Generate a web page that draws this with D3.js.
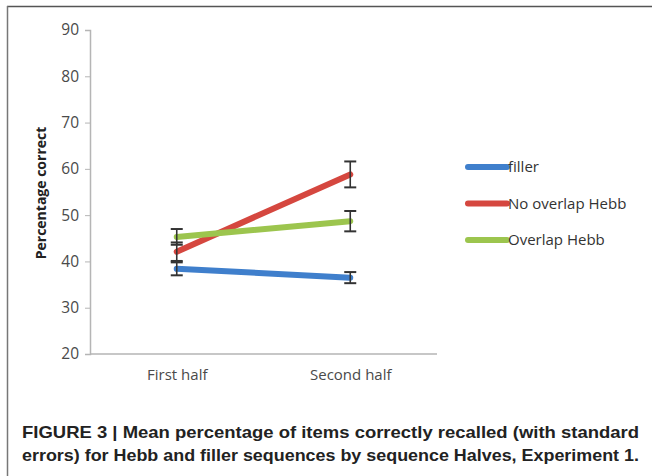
<!DOCTYPE html>
<html>
<head>
<meta charset="utf-8">
<script src="https://cdn.jsdelivr.net/npm/d3@7"></script>
<style>
  body { margin: 0; background: #fff; }
  svg { display: block; }
</style>
</head>
<body>
<div id="chart"></div>
<script>
const halves = ["First half", "Second half"];
const yTicks = [20, 30, 40, 50, 60, 70, 80, 90];
const seriesNames = ["filler", "No overlap Hebb", "Overlap Hebb"];
const fillerMeans = [38.4, 36.5];
const fillerErrors = [1.4, 1.2];
const noOverlapMeans = [42.1, 58.8];
const noOverlapErrors = [2.0, 2.8];
const overlapMeans = [45.3, 48.7];
const overlapErrors = [1.7, 2.2];
const captionLines = [
  "FIGURE 3 | Mean percentage of items correctly recalled (with standard",
  "errors) for Hebb and filler sequences by sequence Halves, Experiment 1."
];

const colors = ["#3f7fcc", "#d5473f", "#9cc54e"];
const series = [
  { name: seriesNames[0], means: fillerMeans, errs: fillerErrors, color: colors[0] },
  { name: seriesNames[1], means: noOverlapMeans, errs: noOverlapErrors, color: colors[1] },
  { name: seriesNames[2], means: overlapMeans, errs: overlapErrors, color: colors[2] }
];

const width = 652;
const height = 476;
const svg = d3.select("#chart").append("svg")
  .attr("width", width)
  .attr("height", height);

// figure frame: top and left rules only
svg.append("line").attr("x1", 7).attr("x2", width).attr("y1", 6.5).attr("y2", 6.5)
  .attr("stroke", "#555").attr("stroke-width", 1.5);
svg.append("line").attr("x1", 7.5).attr("x2", 7.5).attr("y1", 6).attr("y2", height)
  .attr("stroke", "#777").attr("stroke-width", 1.5);

const x = d3.scalePoint().domain(halves).range([90, 437]).padding(0.5);
const y = d3.scaleLinear().domain([20, 90]).range([354, 30]);

const font = "'Open Sans', sans-serif";

// y axis
const yAxis = svg.append("g")
  .attr("transform", "translate(90,0)")
  .call(d3.axisLeft(y).tickValues(yTicks).tickSize(5).tickPadding(6));
yAxis.select(".domain").attr("stroke", "#b5b5b5").attr("stroke-width", 1.5);
yAxis.selectAll(".tick line").attr("stroke", "#b5b5b5");
yAxis.selectAll(".tick text").attr("fill", "#4a4a4a").style("font", `15.5px ${font}`);

// x axis
const xAxis = svg.append("g")
  .attr("transform", "translate(0,354)")
  .call(d3.axisBottom(x).tickSize(0).tickPadding(15));
xAxis.select(".domain").attr("stroke", "#b5b5b5").attr("stroke-width", 1.5)
  .attr("d", "M90,0H437");
xAxis.selectAll(".tick text").attr("fill", "#4a4a4a").style("font", `15px ${font}`);

// y label
svg.append("text")
  .attr("transform", "translate(46,193) rotate(-90)")
  .attr("text-anchor", "middle")
  .style("font", `bold 14px ${font}`)
  .attr("fill", "#222")
  .text("Percentage correct");

// lines
const line = d3.line()
  .x((d, i) => x(halves[i]))
  .y(d => y(d));

series.forEach(s => {
  svg.append("path")
    .datum(s.means)
    .attr("d", line)
    .attr("fill", "none")
    .attr("stroke", s.color)
    .attr("stroke-width", 6)
    .attr("stroke-linecap", "round");
});

// error bars
series.forEach(s => {
  s.means.forEach((m, i) => {
    const cx = x(halves[i]);
    const g = svg.append("g").attr("stroke", "#333").attr("stroke-width", 1.6);
    g.append("line").attr("x1", cx).attr("x2", cx)
      .attr("y1", y(m - s.errs[i])).attr("y2", y(m + s.errs[i]));
    [m - s.errs[i], m + s.errs[i]].forEach(v => {
      g.append("line").attr("x1", cx - 6).attr("x2", cx + 6)
        .attr("y1", y(v)).attr("y2", y(v)).attr("stroke-width", 2);
    });
  });
});

// legend
const legend = svg.append("g").attr("transform", "translate(468,167)");
series.forEach((s, i) => {
  const row = legend.append("g").attr("transform", `translate(0,${i * 36.5})`);
  row.append("line").attr("x1", 0).attr("x2", 39).attr("y1", 0).attr("y2", 0)
    .attr("stroke", s.color).attr("stroke-width", 6).attr("stroke-linecap", "round");
  row.append("text").attr("x", 40).attr("y", 5)
    .attr("fill", "#333")
    .style("font", `15px ${font}`)
    .text(s.name);
});

// caption
captionLines.forEach((t, i) => {
  svg.append("text")
    .attr("x", 22)
    .attr("y", 438 + i * 23)
    .attr("fill", "#222")
    .attr("textLength", 617)
    .attr("lengthAdjust", "spacingAndGlyphs")
    .style("font", "bold 16.5px 'Liberation Sans', Arial, sans-serif")
    .text(t);
});
</script>
</body>
</html>
